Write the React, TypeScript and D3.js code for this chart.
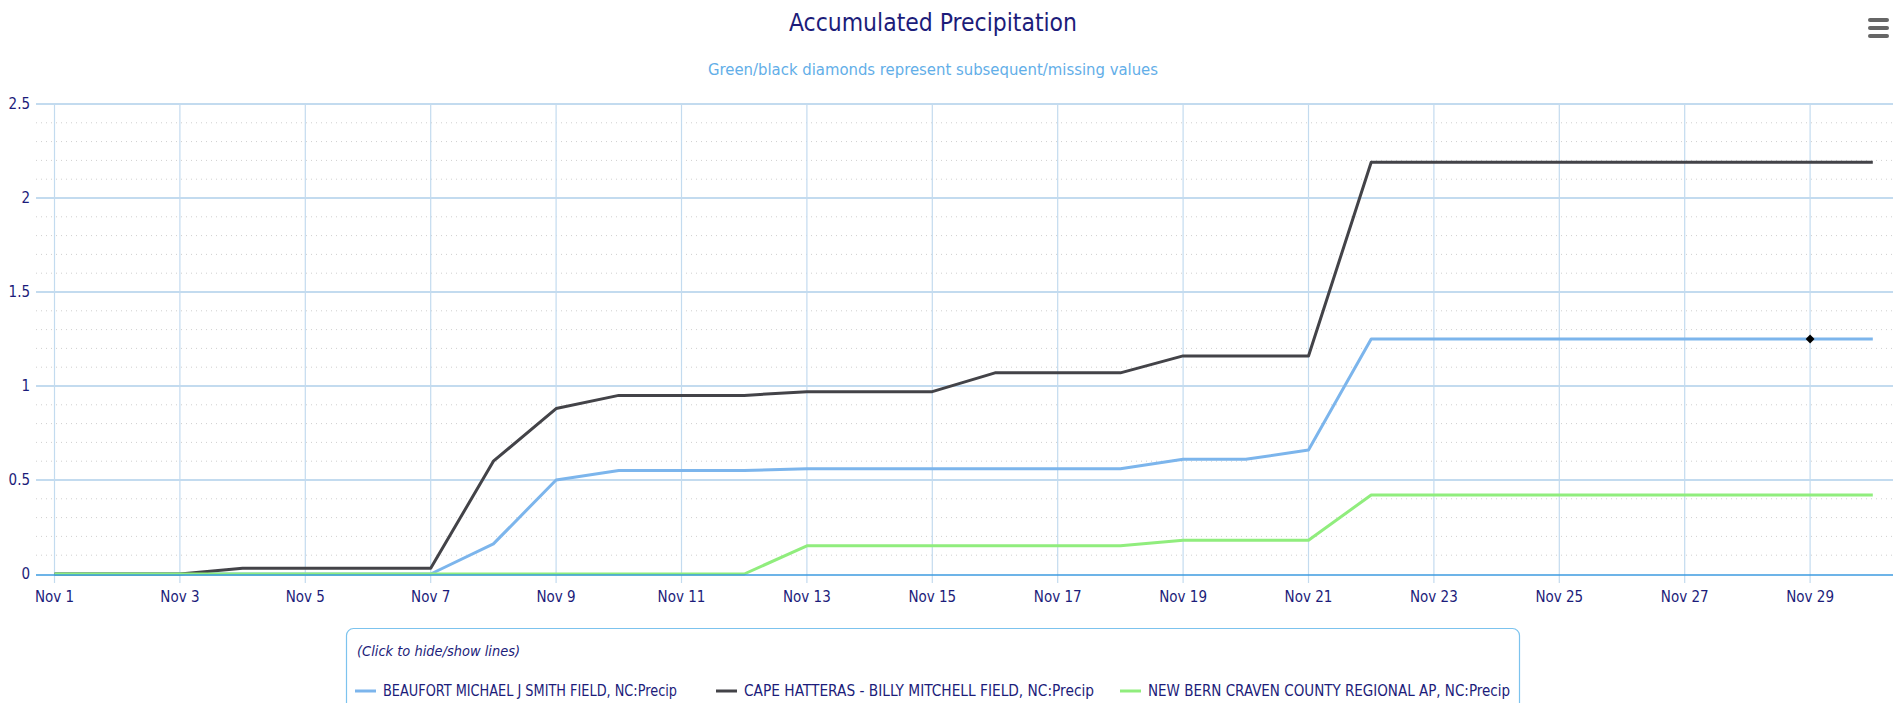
import React from "react";
import * as d3 from "d3";

// days of November shown on the x axis
const days = [1, 2, 3, 4, 5, 6, 7, 8, 9, 10, 11, 12, 13, 14, 15, 16, 17, 18, 19, 20, 21, 22, 23, 24, 25, 26, 27, 28, 29, 30];
const tickDays = [1, 3, 5, 7, 9, 11, 13, 15, 17, 19, 21, 23, 25, 27, 29];
const yTicks = [0, 0.5, 1, 1.5, 2, 2.5];
const yMinorTicks = [0.1, 0.2, 0.3, 0.4, 0.6, 0.7, 0.8, 0.9, 1.1, 1.2, 1.3, 1.4, 1.6, 1.7, 1.8, 1.9, 2.1, 2.2, 2.3, 2.4];

// accumulated precip (inches)
const beaufort = [0, 0, 0, 0, 0, 0, 0, 0.16, 0.5, 0.55, 0.55, 0.55, 0.56, 0.56, 0.56, 0.56, 0.56, 0.56, 0.61, 0.61, 0.66, 1.25, 1.25, 1.25, 1.25, 1.25, 1.25, 1.25, 1.25, 1.25];
const capeHatteras = [0, 0, 0, 0.03, 0.03, 0.03, 0.03, 0.6, 0.88, 0.95, 0.95, 0.95, 0.97, 0.97, 0.97, 1.07, 1.07, 1.07, 1.16, 1.16, 1.16, 2.19, 2.19, 2.19, 2.19, 2.19, 2.19, 2.19, 2.19, 2.19];
const newBern = [0, 0, 0, 0, 0, 0, 0, 0, 0, 0, 0, 0, 0.15, 0.15, 0.15, 0.15, 0.15, 0.15, 0.18, 0.18, 0.18, 0.42, 0.42, 0.42, 0.42, 0.42, 0.42, 0.42, 0.42, 0.42];

// missing value markers (black diamonds)
const missingBeaufortDays = [29];

const seriesNames = [
  "BEAUFORT MICHAEL J SMITH FIELD, NC:Precip",
  "CAPE HATTERAS - BILLY MITCHELL FIELD, NC:Precip",
  "NEW BERN CRAVEN COUNTY REGIONAL AP, NC:Precip",
];

const W = 1893, H = 703;
const FONT = "'Liberation Sans Narrow', 'DejaVu Sans Condensed', 'Open Sans', sans-serif";
const NAVY = "#1c1c7a";
const GRID = "#c3dbef";

const toDate = (d: number) => new Date(2023, 10, d);

export default function App() {
  const x = d3.scaleTime().domain([toDate(1), toDate(30)]).range([54.5, 1872.8]);
  const y = d3.scaleLinear().domain([0, 2.5]).range([574, 104]);
  const plotLeft = 36, plotRight = W;

  const line = d3.line<number>()
    .x((_, i) => x(toDate(days[i])))
    .y(v => y(v));

  const series = [
    { name: seriesNames[0], values: beaufort, color: "#7cb5ec" },
    { name: seriesNames[1], values: capeHatteras, color: "#434348" },
    { name: seriesNames[2], values: newBern, color: "#90ed7d" },
  ];

  const legendX = [355, 716, 1120];
  const legendW = [294, 350, 362];
  const diamond = d3.symbol().type(d3.symbolDiamond2).size(50)();

  return (
    <svg width={W} height={H} style={{ position: "absolute", left: 0, top: 0, background: "#fff" }} fontFamily={FONT}>
      <text x={789} y={31} fontSize={25} fill={NAVY} textLength={288} lengthAdjust="spacingAndGlyphs">Accumulated Precipitation</text>
      <text x={708} y={75} fontSize={16} fill="#62aee8" textLength={450} lengthAdjust="spacingAndGlyphs">Green/black diamonds represent subsequent/missing values</text>

      {/* menu icon */}
      {[20, 28, 36].map(yy => (
        <rect key={yy} x={1868} y={yy - 2} width={21} height={4} rx={2} fill="#666" />
      ))}

      {/* minor grid */}
      {yMinorTicks.map(t => (
        <line key={"m" + t} x1={plotLeft} x2={plotRight} y1={y(t)} y2={y(t)} stroke="#cfcfcf" strokeDasharray="1,4" />
      ))}
      {/* vertical grid */}
      {tickDays.map(d => (
        <line key={"v" + d} x1={x(toDate(d))} x2={x(toDate(d))} y1={y(2.5)} y2={y(0) + 9} stroke={GRID} strokeWidth={1.2} />
      ))}
      {/* major horizontal grid */}
      {yTicks.filter(t => t > 0).map(t => (
        <line key={"h" + t} x1={plotLeft} x2={plotRight} y1={y(t)} y2={y(t)} stroke={GRID} strokeWidth={1.8} />
      ))}
      {yTicks.map(t => (
        <text key={"yl" + t} x={30} y={y(t)} dy="0.35em" textAnchor="end" fontSize={15} fill={NAVY}>{t}</text>
      ))}
      {tickDays.map(d => (
        <text key={"xl" + d} x={x(toDate(d))} y={602} textAnchor="middle" fontSize={15} fill={NAVY}>{d3.timeFormat("Nov %-d")(toDate(d))}</text>
      ))}

      {/* series */}
      {series.map(s => (
        <path key={s.name} d={line(s.values) || ""} fill="none" stroke={s.color} strokeWidth={3} strokeLinejoin="round" />
      ))}
      <line x1={plotLeft} x2={plotRight} y1={y(0) + 1} y2={y(0) + 1} stroke="#3d9be0" strokeWidth={1.5} />
      {missingBeaufortDays.map(d => (
        <path key={"md" + d} d={diamond || ""} transform={`translate(${x(toDate(d))},${y(beaufort[d - 1])})`} fill="#000" />
      ))}

      {/* legend */}
      <rect x={346.5} y={628.5} width={1173} height={90} rx={7} fill="#fff" stroke="#7cc3ee" strokeWidth={1.2} />
      <text x={357} y={656} fontSize={14} fontStyle="italic" fill={NAVY} textLength={163} lengthAdjust="spacingAndGlyphs">(Click to hide/show lines)</text>
      {series.map((s, i) => (
        <g key={"lg" + i}>
          <line x1={legendX[i]} x2={legendX[i] + 21} y1={691} y2={691} stroke={s.color} strokeWidth={3} />
          <text x={legendX[i] + 28} y={696} fontSize={15} fill={NAVY} textLength={legendW[i]} lengthAdjust="spacingAndGlyphs">{s.name}</text>
        </g>
      ))}
    </svg>
  );
}
